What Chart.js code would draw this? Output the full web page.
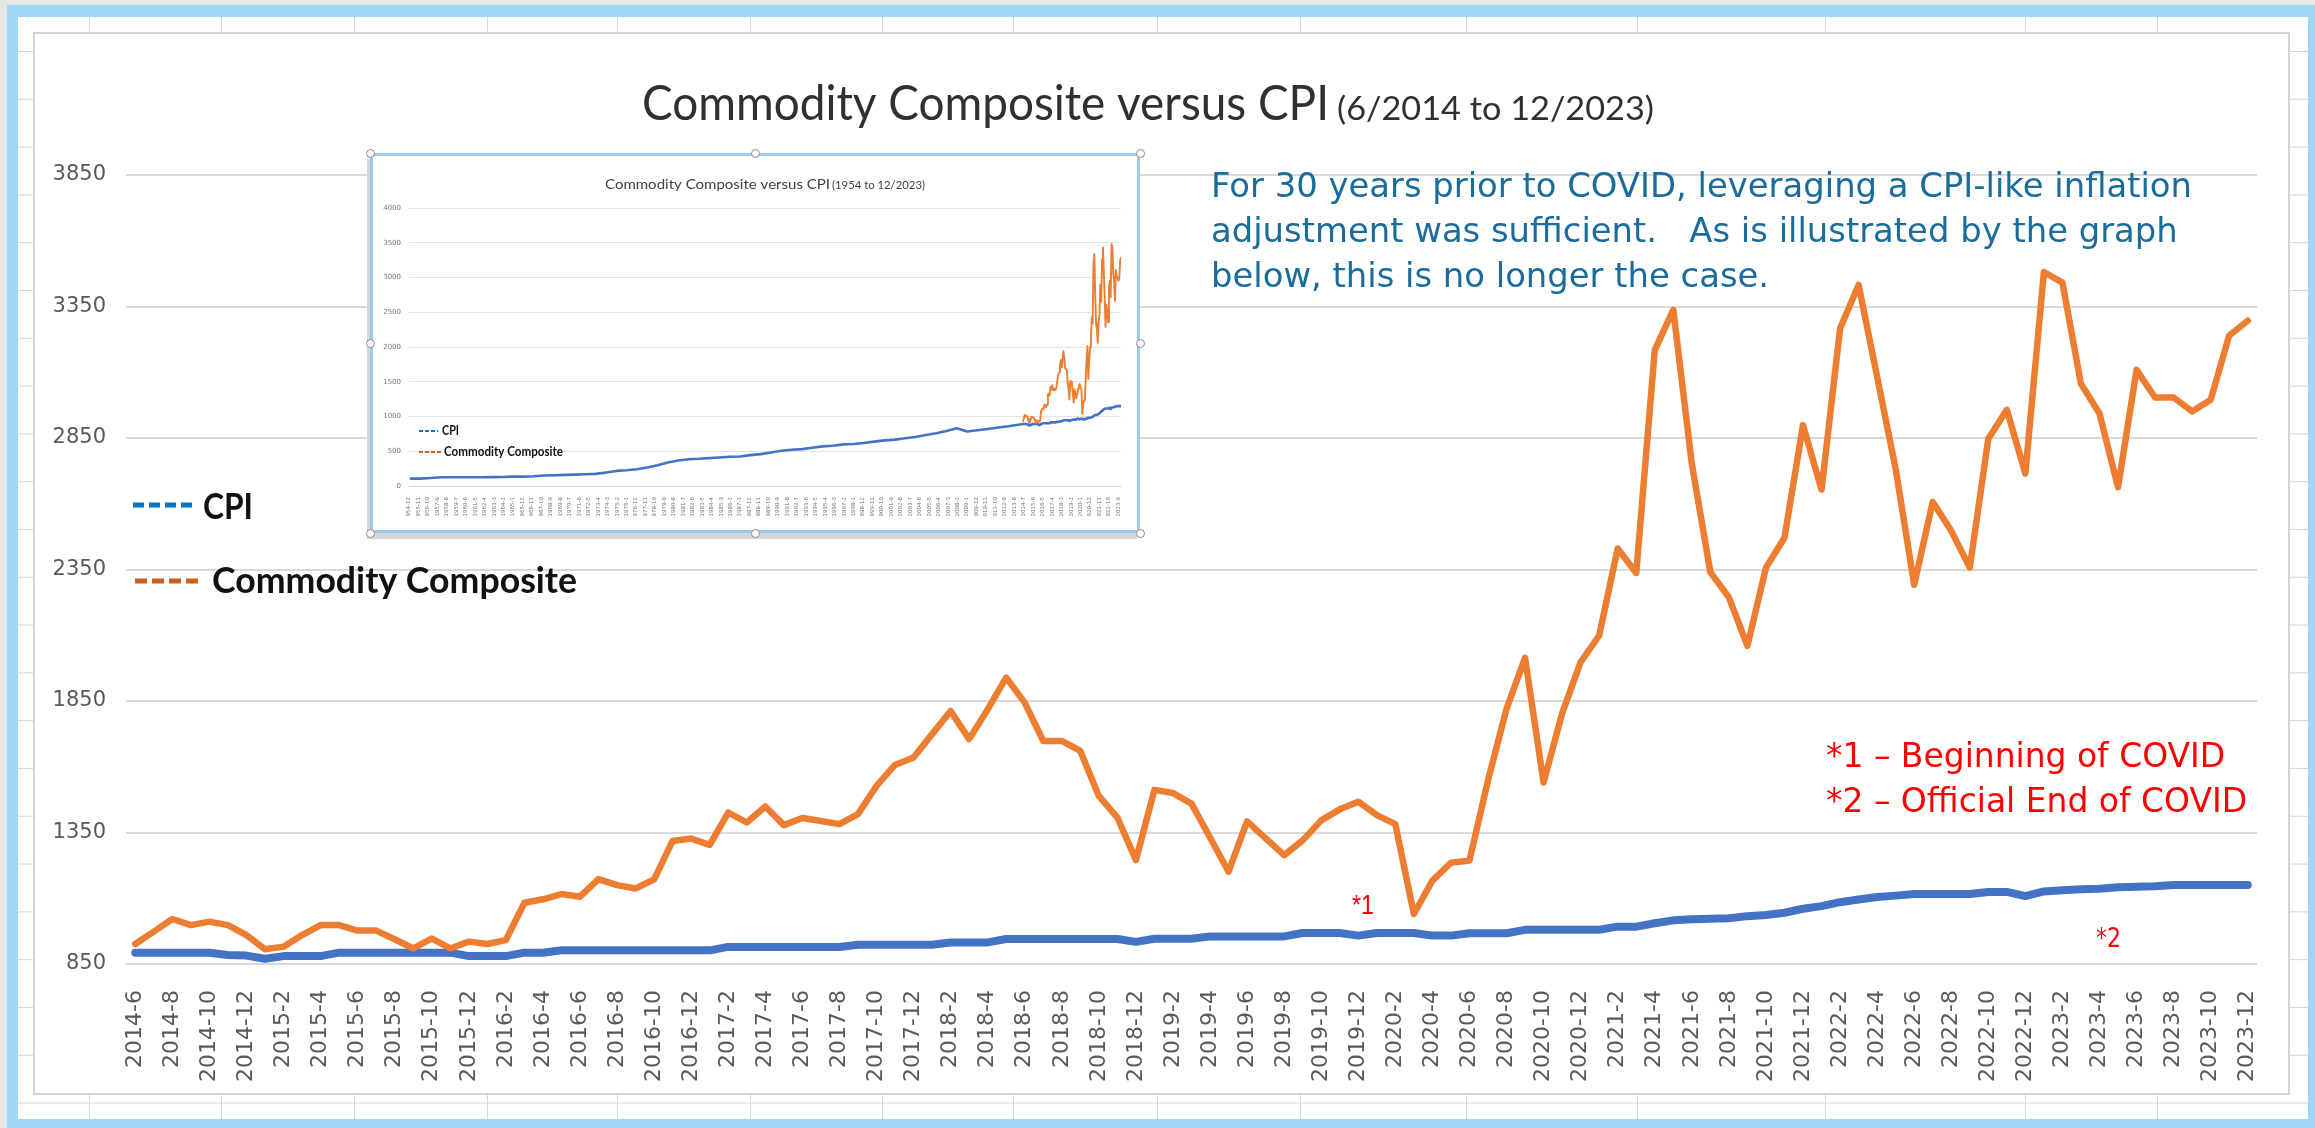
<!DOCTYPE html>
<html>
<head>
<meta charset="utf-8">
<title>Commodity Composite versus CPI</title>
<script src="https://cdn.jsdelivr.net/npm/chart.js@4/dist/chart.umd.min.js"></script>
<style>
    html, body { margin: 0; padding: 0; }
    body { width: 2315px; height: 1128px; background: #e6e6e6; position: relative; overflow: hidden; }
    #frame {
        position: absolute; left: 7px; top: 5px; width: 2308px; height: 1123px; box-sizing: border-box;
        border: solid #9fd7f4; border-width: 12px 7px 9px 11px;
        background-color: #fff;
        background-image: linear-gradient(to bottom, #d6d6d6 1px, transparent 1px);
        background-size: 100% 47.8px; background-position: 0 34px;
    }
    .col { position: absolute; top: 0; bottom: 0; width: 1px; background: #d6d6d6; }
    #sheet { position: absolute; left: 33px; top: 32px; width: 2257px; height: 1063px; box-sizing: border-box; background: #fff; border: 2px solid #d4d4d4; }
    #main { position: absolute; left: 0; top: 0; }
    #inset { position: absolute; left: 370px; top: 153px; width: 770px; height: 380px; box-sizing: border-box; border: 3px solid #9dcbec; background: #fff; box-shadow: -3px 6px 0 #d6d6d6; }
    #inset canvas { position: absolute; left: 0; top: 0; }
    .handle { position: absolute; width: 9px; height: 9px; border-radius: 50%; background: #fff; border: 1px solid #8a8a8a; box-sizing: border-box; }
</style>
</head>
<body>
<div id="frame"></div>
<div id="sheet"></div>
<canvas id="main" width="2315" height="1128"></canvas>
<div id="inset"><canvas id="insetChart" width="764" height="374"></canvas></div>

<script>
// ---- data: main chart, monthly 2014-6 .. 2023-12
const startYear = 2014, startMonth = 6, monthCount = 115;
const monthLabels = [];
for (let i = 0; i < monthCount; i++) {
    const m = startMonth - 1 + i;
    monthLabels.push((startYear + Math.floor(m / 12)) + '-' + (m % 12 + 1));
}

const cpi = [
    893, 893, 893, 893, 893, 884, 882,                                   // 2014
    870, 880, 880, 880, 893, 893, 893, 893, 893, 893, 893, 880,          // 2015
    880, 880, 893, 893, 902, 902, 902, 902, 902, 902, 902, 902,          // 2016
    902, 915, 915, 915, 915, 915, 915, 915, 923, 923, 923, 923,          // 2017
    923, 932, 932, 932, 945, 945, 945, 945, 945, 945, 945, 934,          // 2018
    946, 946, 946, 955, 955, 955, 955, 955, 968, 968, 968, 958,          // 2019
    968, 968, 968, 958, 958, 967, 967, 967, 980, 980, 980, 980,          // 2020
    980, 992, 992, 1005, 1016, 1020, 1022, 1024, 1032, 1036, 1045, 1060, // 2021
    1070, 1085, 1095, 1105, 1110, 1116, 1116, 1116, 1116, 1124, 1124, 1108, // 2022
    1126, 1130, 1134, 1136, 1142, 1144, 1146, 1150, 1150, 1150, 1150, 1150  // 2023
];

const commodity = [
    926, 973, 1021, 998, 1011, 998, 960,                                  // 2014
    906, 916, 960, 998, 998, 977, 977, 944, 909, 947, 909, 935,           // 2015
    926, 941, 1083, 1096, 1116, 1106, 1173, 1150, 1137, 1172, 1318, 1327, // 2016
    1303, 1426, 1388, 1449, 1378, 1405, 1394, 1382, 1420, 1527, 1607, 1635, // 2017
    1724, 1812, 1705, 1818, 1939, 1844, 1698, 1698, 1660, 1489, 1407, 1245, // 2018
    1512, 1500, 1460, 1331, 1201, 1392, 1328, 1264, 1320, 1396, 1438, 1467, // 2019
    1416, 1382, 1040, 1167, 1235, 1243, 1548, 1820, 2014, 1540, 1803, 1998, // 2020
    2099, 2430, 2337, 3184, 3337, 2752, 2340, 2244, 2060, 2357, 2471, 2899, // 2021
    2654, 3266, 3432, 3083, 2733, 2292, 2607, 2497, 2357, 2847, 2957, 2715, // 2022
    3481, 3441, 3056, 2943, 2663, 3109, 3004, 3004, 2951, 2995, 3240, 3296  // 2023
];

const yTicks = [850, 1350, 1850, 2350, 2850, 3350, 3850];

// ---- data: inset chart (1954 .. 12/2023), CPI read once a year before 2014-6
const insetYears = [
    1955, 1956, 1957, 1958, 1959, 1960, 1961, 1962, 1963, 1964,
    1965, 1966, 1967, 1968, 1969, 1970, 1971, 1972, 1973, 1974,
    1975, 1976, 1977, 1978, 1979, 1980, 1981, 1982, 1983, 1984,
    1985, 1986, 1987, 1988, 1989, 1990, 1991, 1992, 1993, 1994,
    1995, 1996, 1997, 1998, 1999, 2000, 2001, 2002, 2003, 2004,
    2005, 2006, 2007, 2008, 2009, 2010, 2011, 2012, 2013
];
const insetCpi = [
    106, 106, 116, 126, 126, 126, 126, 126, 128, 130,
    135, 135, 140, 150, 155, 160, 164, 169, 174, 193,
    217, 227, 242, 266, 300, 338, 367, 386, 391, 401,
    411, 420, 425, 444, 459, 483, 507, 522, 531, 551,
    570, 580, 599, 604, 618, 638, 657, 667, 686, 705,
    734, 758, 792, 831, 783, 802, 821, 841, 860
];
const insetYTicks = [0, 500, 1000, 1500, 2000, 2500, 3000, 3500, 4000];

// months counted from 1954-12
const monthIndex = (y, m) => (y - 1954) * 12 + m - 12;
const insetTickMonths = [];
for (let v = 0; v <= monthIndex(2023, 12); v += 11) insetTickMonths.push(v);

// ---- sheet decoration
const frame = document.getElementById('frame');
[89, 221, 354, 487, 617, 750, 882, 1013, 1157, 1300, 1466, 1637, 1825, 2025, 2157].forEach(x => {
    const d = document.createElement('div');
    d.className = 'col';
    d.style.left = (x - 18) + 'px';
    frame.appendChild(d);
});
const inset = document.getElementById('inset');
[[-3, -3], [382, -3], [767, -3], [-3, 187], [767, 187], [-3, 377], [382, 377], [767, 377]].forEach(p => {
    const h = document.createElement('div');
    h.className = 'handle';
    h.style.left = (p[0] - 4.5) + 'px';
    h.style.top = (p[1] - 4.5) + 'px';
    inset.appendChild(h);
});

// draw text, optionally squeezed to a width (or by a given x scale)
let drawText = function(ctx, text, x, y, font, color, opts) {
    opts = opts || {};
    ctx.save();
    ctx.font = font;
    ctx.fillStyle = color;
    ctx.textAlign = 'left';
    ctx.textBaseline = 'alphabetic';
    let sx = opts.scale || 1;
    if (opts.width) sx = opts.width / ctx.measureText(text).width;
    ctx.translate(x, y);
    ctx.scale(sx, 1);
    ctx.fillText(text, 0, 0);
    ctx.restore();
    return sx;
};

let drawDash = function(ctx, x1, x2, y, color, width, dash) {
    ctx.save();
    ctx.strokeStyle = color;
    ctx.lineWidth = width;
    ctx.setLineDash(dash);
    ctx.beginPath();
    ctx.moveTo(x1, y);
    ctx.lineTo(x2, y);
    ctx.stroke();
    ctx.restore();
};

const noteLines = [
    'For 30 years prior to COVID, leveraging a CPI-like inflation',
    'adjustment was sufficient.   As is illustrated by the graph',
    'below, this is no longer the case.'
];
const covidLines = ['*1 \u2013 Beginning of COVID', '*2 \u2013 Official End of COVID'];

const mainNotes = {
    id: 'mainNotes',
    afterDraw(chart) {
        const ctx = chart.ctx;
        // title
        drawText(ctx, 'Commodity Composite versus CPI', 642, 120, '48px Lato', '#303030', { width: 687 });
        drawText(ctx, '(6/2014 to 12/2023)', 1337, 120, '32px Lato', '#303030', { width: 317 });

        // blue note
        const noteFont = '34px "DejaVu Sans"';
        ctx.font = noteFont;
        const nsx = 981 / ctx.measureText(noteLines[0]).width;
        noteLines.forEach((t, k) => drawText(ctx, t, 1211, 197 + k * 45, noteFont, '#1a6c9c', { scale: nsx }));

        // covid notes
        const redFont = '33px "DejaVu Sans"';
        ctx.font = redFont;
        const rsx = 421 / ctx.measureText(covidLines[1]).width;
        covidLines.forEach((t, k) => drawText(ctx, t, 1826, 767 + k * 45, redFont, '#ff0000', { scale: rsx }));
        drawText(ctx, '*1', 1352, 914, '27px "Liberation Sans"', '#ff0000', { width: 22 });
        drawText(ctx, '*2', 2096, 947, '27px "DejaVu Sans"', '#ff0000', { width: 25 });

        // legend
        drawDash(ctx, 133, 193, 505, '#0a74c9', 5, [11, 5]);
        drawText(ctx, 'CPI', 203, 519, 'bold 36px Lato', '#111111', { width: 50 });
        drawDash(ctx, 135, 200, 581, '#c85f1c', 5, [12, 5]);
        drawText(ctx, 'Commodity Composite', 212, 593, 'bold 37px Lato', '#111111', { width: 365 });
    }
};

new Chart(document.getElementById('main'), {
    type: 'line',
    data: {
        labels: monthLabels,
        datasets: [
            {
                label: 'CPI',
                data: cpi,
                borderColor: '#4472c4',
                borderWidth: 8,
                order: 2,
            },
            {
                label: 'Commodity Composite',
                data: commodity,
                borderColor: '#ed7d31',
                borderWidth: 6.5,
                order: 1,
            }
        ]
    },
    options: {
        responsive: false,
        animation: false,
        layout: {
            padding: { left: 0, top: 175, right: 58, bottom: 38 }
        },
        elements: {
            point: { radius: 0 },
            line: { tension: 0, borderJoinStyle: 'round', borderCapStyle: 'round' }
        },
        plugins: {
            legend: { display: false },
            title: { display: false },
            tooltip: { enabled: false }
        },
        scales: {
            x: {
                offset: true,
                grid: { display: false },
                border: { display: false },
                ticks: {
                    autoSkip: false,
                    minRotation: 90,
                    maxRotation: 90,
                    padding: 18,
                    color: '#595959',
                    font: { family: 'DejaVu Sans', size: 22 },
                    callback: function(v, i) {
                        return i % 2 === 0 ? this.getLabelForValue(v) : '';
                    }
                },
                afterFit: s => { s.height = 126; }
            },
            y: {
                min: 850,
                max: 3850,
                grid: { color: '#d9d9d9', lineWidth: 2, drawTicks: false },
                border: { display: false },
                ticks: {
                    padding: 20,
                    color: '#595959',
                    font: { family: 'DejaVu Sans', size: 21 },
                    callback: v => String(v)
                },
                afterBuildTicks: s => { s.ticks = yTicks.map(v => ({ value: v })); },
                afterFit: s => { s.width = 126; }
            }
        }
    },
    plugins: [mainNotes]
});

// ---- inset chart
const insetNotes = {
    id: 'insetNotes',
    afterDraw(chart) {
        const ctx = chart.ctx;
        drawText(ctx, 'Commodity Composite versus CPI', 232, 33, '14px Lato', '#404040', { width: 225 });
        drawText(ctx, '(1954 to 12/2023)', 459, 33, '10.5px Lato', '#404040', { width: 93 });
        drawDash(ctx, 46, 65, 275, '#0a74c9', 2, [4, 2]);
        drawText(ctx, 'CPI', 69, 279, 'bold 13px Lato', '#111111', { width: 17 });
        drawDash(ctx, 46, 68, 296, '#c85f1c', 2, [4, 2]);
        drawText(ctx, 'Commodity Composite', 71, 300, 'bold 13px Lato', '#111111', { width: 119 });
    }
};

const insetCpiPoints = insetYears.map((y, k) => ({ x: monthIndex(y, 1), y: insetCpi[k] }))
    .concat(cpi.map((v, i) => ({ x: monthIndex(startYear, startMonth) + i, y: v })));
const insetComPoints = commodity.map((v, i) => ({ x: monthIndex(startYear, startMonth) + i, y: v }));

new Chart(document.getElementById('insetChart'), {
    type: 'line',
    data: {
        datasets: [
            { label: 'CPI', data: insetCpiPoints, borderColor: '#4472c4', borderWidth: 2.6, order: 2 },
            { label: 'Commodity Composite', data: insetComPoints, borderColor: '#ed7d31', borderWidth: 1.9, order: 1 }
        ]
    },
    options: {
        responsive: false,
        animation: false,
        layout: {
            padding: { left: 0, top: 52, right: 16, bottom: 14 }
        },
        elements: {
            point: { radius: 0 },
            line: { tension: 0, borderJoinStyle: 'round' }
        },
        plugins: {
            legend: { display: false },
            title: { display: false },
            tooltip: { enabled: false }
        },
        scales: {
            x: {
                type: 'linear',
                min: 0,
                max: monthIndex(2023, 12),
                grid: { display: false },
                border: { color: '#d9d9d9' },
                ticks: {
                    autoSkip: false,
                    minRotation: 90,
                    maxRotation: 90,
                    padding: 3,
                    color: '#777777',
                    font: { family: 'DejaVu Sans', size: 5.5 },
                    callback: v => (1954 + Math.floor((v + 11) / 12)) + '-' + ((v + 11) % 12 + 1)
                },
                afterBuildTicks: s => { s.ticks = insetTickMonths.map(v => ({ value: v })); },
                afterFit: s => { s.height = 30; }
            },
            y: {
                min: 0,
                max: 4000,
                grid: { color: '#e3e3e3', lineWidth: 1, drawTicks: false },
                border: { display: false },
                ticks: {
                    padding: 8,
                    color: '#777777',
                    font: { family: 'DejaVu Sans', size: 7 },
                    callback: v => String(v)
                },
                afterBuildTicks: s => { s.ticks = insetYTicks.map(v => ({ value: v })); },
                afterFit: s => { s.width = 36; }
            }
        }
    },
    plugins: [insetNotes]
});
</script>
</body>
</html>
